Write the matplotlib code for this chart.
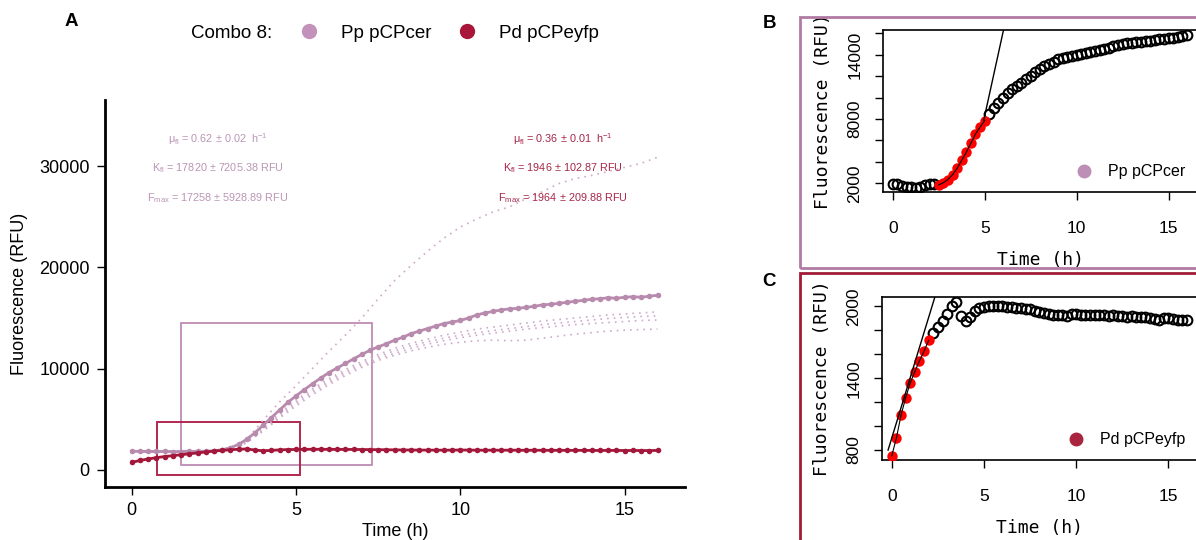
import numpy as np
import matplotlib
matplotlib.use("Agg")
import matplotlib.pyplot as plt
from matplotlib.lines import Line2D
from matplotlib.patches import Rectangle

plt.rcParams['font.family'] = ['Liberation Sans', 'DejaVu Sans']
plt.rcParams['mathtext.fontset'] = 'custom'
plt.rcParams['mathtext.rm'] = 'Liberation Sans'
plt.rcParams['mathtext.default'] = 'regular'

# time grids (h)
time_a = np.arange(0, 16.01, 0.25)
time_rep = np.arange(0, 16.01, 0.5)

# panel A, thick series
pp_mean = [1810, 1800, 1795, 1790, 1790, 1785, 1785, 1790, 1800, 1820,
           1860, 1950, 2150, 2500, 3000, 3650, 4400, 5150, 5900, 6650,
           7300, 7900, 8500, 9050, 9600, 10050, 10500, 10950, 11400, 11800,
           12150, 12450, 12800, 13100, 13450, 13700, 13950, 14200, 14450, 14600,
           14750, 15000, 15300, 15500, 15650, 15800, 15900, 15950, 16050, 16150,
           16300, 16350, 16450, 16550, 16650, 16750, 16850, 16900, 17000, 16950,
           17050, 17100, 17050, 17150, 17250]
pd_mean = [720, 900, 1050, 1180, 1290, 1380, 1470, 1560, 1650, 1740,
           1830, 1900, 1960, 2010, 2040, 1930, 1860, 1900, 1950, 1980,
           1990, 2000, 2010, 2005, 2000, 1995, 1995, 1990, 1985, 1975,
           1970, 1960, 1950, 1940, 1935, 1930, 1925, 1925, 1920, 1925,
           1935, 1930, 1920, 1915, 1920, 1915, 1920, 1915, 1910, 1915,
           1910, 1905, 1910, 1905, 1900, 1905, 1895, 1890, 1900, 1895,
           1885, 1890, 1880, 1885, 1890]

# panel A, single replicates of Pp (dotted)
pp_rep1 = [1800, 1790, 1790, 1790, 1800, 1870, 2200, 3000, 4900, 6700, 8300,
           10000, 11700, 13300, 15000, 16900, 18700, 20200, 21600, 22900, 24000,
           24800, 25500, 26000, 26800, 27500, 28300, 28800, 29100, 29500, 29900,
           30300, 30900]
pp_rep2 = [1790, 1780, 1780, 1780, 1790, 1850, 2100, 2900, 4200, 5600, 6900,
           8000, 9000, 9900, 10700, 11400, 12000, 12500, 12900, 13300, 13600,
           13900, 14100, 14300, 14500, 14700, 14850, 15000, 15150, 15300, 15400,
           15500, 15600]
pp_rep3 = [1780, 1775, 1770, 1775, 1785, 1840, 2050, 2800, 4000, 5400, 6700,
           7800, 8800, 9700, 10500, 11200, 11750, 12250, 12650, 13000, 13300,
           13550, 13750, 13950, 14150, 14350, 14500, 14650, 14800, 14950, 15050,
           15150, 15200]
pp_rep4 = [1770, 1765, 1760, 1765, 1775, 1830, 2000, 2700, 3900, 5200, 6500,
           7600, 8600, 9500, 10300, 11000, 11500, 12000, 12400, 12750, 13050,
           13300, 13500, 13700, 13900, 14050, 14200, 14350, 14450, 14550, 14650,
           14750, 14800]
pp_rep5 = [1760, 1755, 1750, 1755, 1770, 1820, 2000, 2650, 3800, 5100, 6300,
           7400, 8400, 9300, 10100, 10800, 11300, 11750, 12100, 12400, 12600,
           12750, 12800, 12750, 12800, 13000, 13200, 13400, 13550, 13700, 13800,
           13850, 13900]

# zoom boxes in A: t0, v0, t1, v1
pp_box = [1.50, 495, 7.32, 14455]
pd_box = [0.78, -564, 5.11, 4713]

pp_stats = ["\u03bc$_{fl}$ = 0.62 \u00b1 0.02  h$^{-1}$",
            "K$_{fl}$ = 17820 \u00b1 7205.38 RFU",
            "F$_{max}$ = 17258 \u00b1 5928.89 RFU"]
pd_stats = ["\u03bc$_{fl}$ = 0.36 \u00b1 0.01  h$^{-1}$",
            "K$_{fl}$ = 1946 \u00b1 102.87 RFU",
            "F$_{max}$ = 1964 \u00b1 209.88 RFU"]

# panel B (Pp pCPcer single fit)
b_values = [1930, 1900, 1780, 1700, 1620, 1600, 1700, 1850, 1900, 1930,
            1850, 2050, 2350, 2800, 3400, 4150, 4900, 5750, 6600, 7250,
            7850, 8500, 9000, 9500, 10000, 10400, 10800, 11100, 11400, 11700,
            12050, 12350, 12650, 12900, 13150, 13350, 13550, 13700, 13800, 13900,
            14000, 14100, 14150, 14250, 14350, 14450, 14550, 14650, 14800, 14900,
            14950, 15050, 15100, 15150, 15200, 15250, 15300, 15350, 15450, 15500,
            15550, 15600, 15650, 15750, 15800]
b_fit_range = (10, 21)
b_tangent_t = [4.95, 6.1]
b_tangent_v = [7900, 16900]

# panel C (Pd pCPeyfp single fit)
c_values = [752, 900, 1090, 1235, 1360, 1455, 1545, 1625, 1717, 1780,
            1830, 1880, 1940, 2000, 2040, 1920, 1880, 1910, 1960, 1985,
            1995, 2005, 2006, 2000, 2000, 1998, 1997, 1990, 1985, 1980,
            1975, 1960, 1950, 1942, 1935, 1930, 1928, 1925, 1920, 1935,
            1940, 1930, 1925, 1925, 1930, 1925, 1925, 1920, 1925, 1920,
            1920, 1915, 1920, 1915, 1915, 1910, 1905, 1895, 1890, 1900,
            1905, 1895, 1890, 1890, 1890]
c_fit_range = (0, 9)
c_tangent_t = [-0.2, 2.4]
c_tangent_v = [800, 2110]

PINK = '#b88aae'
PINK_LIGHT = '#cfa9c9'
PINK_TEXT = '#bb95b5'
RED = '#a3173b'
RED_TEXT = '#a82648'
W, H = 1196, 540


def fx(px):
    return px / W


def fy(px):
    return 1 - px / H


def add_axes_px(fig, left, top, right, bottom):
    return fig.add_axes([fx(left), fy(bottom), fx(right - left), (bottom - top) / H])


def inset_panel(ax, values, fit_range, tang_t, tang_v, color, label, yticks, ylabels, ylim):
    t = time_a
    i0, i1 = fit_range
    v = np.array(values)
    mask = np.ones(len(v), bool)
    mask[i0:i1] = False
    ax.plot(t[mask], v[mask], 'o', mfc='none', mec='black', ms=7, mew=1.5, zorder=3)
    ax.plot(t[i0:i1], v[i0:i1], 'o', color='#ff0000', ms=7.5, mew=0, zorder=4)
    ax.plot(t[i0:i1], v[i0:i1], '-', color='black', lw=0.8, zorder=5)
    ax.plot(tang_t, tang_v, '-', color='black', lw=1.0, zorder=5)
    ax.set_xlim(-0.53, 16.6)
    ax.set_ylim(*ylim)
    ax.set_xticks([0, 5, 10, 15])
    ax.set_yticks(yticks)
    ax.set_yticklabels(ylabels, rotation=90, va='center')
    for s in ax.spines.values():
        s.set_linewidth(1.2)
    ax.tick_params(axis='x', length=6, width=1, labelsize=12.5, pad=15)
    ax.tick_params(axis='y', length=6, width=1, labelsize=12.5, pad=9)
    ax.set_xlabel('Time (h)', family='DejaVu Sans Mono', fontsize=13, labelpad=11)
    ax.set_ylabel('Fluorescence (RFU)', family='DejaVu Sans Mono', fontsize=13, labelpad=11)
    h = Line2D([], [], marker='o', ls='', color=color, ms=9)
    ax.legend([h], [label], loc='lower right', frameon=False, fontsize=11.5,
              handlelength=0.8, handletextpad=1.1, borderaxespad=0.4)


if __name__ == '__main__':
    fig = plt.figure(figsize=(W / 100, H / 100), dpi=100)

    # ---- panel A
    ax = add_axes_px(fig, 105, 100, 684.5, 487)
    for rep in [pp_rep1, pp_rep2, pp_rep3, pp_rep4, pp_rep5]:
        ax.plot(time_rep, rep, ls=(0, (1, 3)), color=PINK_LIGHT, lw=1.2)
    ax.plot(time_a, pp_mean, '-o', color=PINK, ms=4, lw=2, mew=0)
    ax.plot(time_a, pd_mean, '-o', color=RED, ms=4, lw=2, mew=0)
    ax.add_patch(Rectangle((pp_box[0], pp_box[1]), pp_box[2] - pp_box[0], pp_box[3] - pp_box[1],
                           fill=False, ec='#b982ad', lw=1.2))
    ax.add_patch(Rectangle((pd_box[0], pd_box[1]), pd_box[2] - pd_box[0], pd_box[3] - pd_box[1],
                           fill=False, ec='#b0294e', lw=1.4))
    ax.set_xlim(-0.815, 16.82)
    ax.set_ylim(-1723, 36564)
    ax.set_xticks([0, 5, 10, 15])
    ax.set_yticks([0, 10000, 20000, 30000])
    ax.spines['top'].set_visible(False)
    ax.spines['right'].set_visible(False)
    ax.spines['left'].set_linewidth(2)
    ax.spines['bottom'].set_linewidth(2)
    ax.tick_params(length=6, width=1, labelsize=13, pad=5)
    ax.set_xlabel('Time (h)', fontsize=13, labelpad=3)
    ax.set_ylabel('Fluorescence (RFU)', fontsize=13, labelpad=8)
    for i, s in enumerate(pp_stats):
        ax.text(0.195, 0.9 - i * 0.077, s, transform=ax.transAxes, ha='center', va='center',
                fontsize=7.8, color=PINK_TEXT)
    for i, s in enumerate(pd_stats):
        ax.text(0.79, 0.9 - i * 0.077, s, transform=ax.transAxes, ha='center', va='center',
                fontsize=7.8, color=RED_TEXT)

    fig.text(fx(191), fy(33), 'Combo 8:', fontsize=13.5, ha='left', va='center')
    handles = [Line2D([], [], marker='o', ls='', color='#c392ba', ms=10),
               Line2D([], [], marker='o', ls='', color='#a8173a', ms=10)]
    fig.legend(handles, ['Pp pCPcer', 'Pd pCPeyfp'], loc='center', bbox_to_anchor=(fx(449), fy(33)),
               ncol=2, frameon=False, fontsize=13.5, handlelength=1.0, handletextpad=1.2,
               columnspacing=1.4)

    fig.text(fx(71), fy(22), 'A', fontsize=13.5, fontweight='bold', ha='center', va='center')
    fig.text(fx(769), fy(23), 'B', fontsize=13.5, fontweight='bold', ha='center', va='center')
    fig.text(fx(769), fy(282), 'C', fontsize=13.5, fontweight='bold', ha='center', va='center')

    # panel borders
    fig.patches.append(Rectangle((fx(800), fy(268)), fx(420), 251 / H, transform=fig.transFigure,
                                 fill=False, ec='#b07aa4', lw=2))
    fig.patches.append(Rectangle((fx(800), fy(560)), fx(420), 287 / H, transform=fig.transFigure,
                                 fill=False, ec='#a01c36', lw=2))

    # ---- panel B
    ax_b = add_axes_px(fig, 883, 30, 1198, 192)
    inset_panel(ax_b, b_values, b_fit_range, b_tangent_t, b_tangent_v, '#bd8fb6', 'Pp pCPcer',
                list(range(2000, 16001, 2000)),
                ['2000', '', '', '8000', '', '', '14000', ''], (1190, 16300))

    # ---- panel C
    ax_c = add_axes_px(fig, 882, 297, 1198, 460)
    inset_panel(ax_c, c_values, c_fit_range, c_tangent_t, c_tangent_v, '#a8243f', 'Pd pCPeyfp',
                list(range(800, 2001, 200)),
                ['800', '', '', '1400', '', '', '2000'], (717, 2078))

    fig.savefig('out.png', dpi=100)
